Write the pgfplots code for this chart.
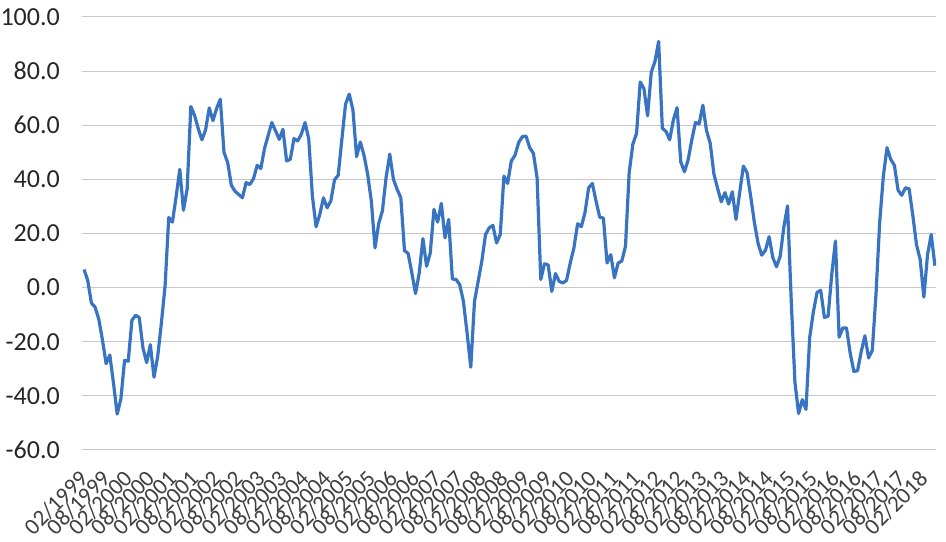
\documentclass[border=0pt]{standalone}
\usepackage{fontspec}
\setmainfont{Carlito}
\usepackage{pgfplots}
\pgfplotsset{compat=1.18}
\definecolor{lineblue}{RGB}{56,116,194}
\definecolor{gridgray}{RGB}{200,200,200}
\definecolor{ylab}{RGB}{38,38,38}
\definecolor{xlab}{RGB}{64,64,64}

\begin{document}
\begin{tikzpicture}
\begin{axis}[
    name=ax,
    scale only axis,
    width=854pt, height=433pt,
    xmin=-0.55, xmax=231.3,
    ymin=-60, ymax=100,
    ytick={-60,-40,...,100},
    yticklabels={-60.0,-40.0,-20.0,0.0,20.0,40.0,60.0,80.0,100.0},
    xtick={0,6,...,228},
    xticklabels={02/1999,08/1999,02/2000,08/2000,02/2001,08/2001,02/2002,08/2002,
      02/2003,08/2003,02/2004,08/2004,02/2005,08/2005,02/2006,08/2006,02/2007,08/2007,
      02/2008,08/2008,02/2009,08/2009,02/2010,08/2010,02/2011,08/2011,02/2012,08/2012,
      02/2013,08/2013,02/2014,08/2014,02/2015,08/2015,02/2016,08/2016,02/2017,08/2017,02/2018},
    axis line style={draw=none},
    major tick length=0pt,
    ymajorgrids,
    grid style={gridgray, line width=1pt},
    yticklabel style={font=\fontsize{26}{26}\selectfont, text=ylab, anchor=east, inner sep=0pt, xshift=-22pt},
    xticklabel style={font=\fontsize{23}{23}\selectfont, text=xlab, yshift=-25pt, rotate=45, anchor=east, inner sep=0pt},
]
\addplot[lineblue, line width=3.2pt, line join=round, no markers] table {
x y
0 6.7
1 2.7
2 -5.7
3 -7.2
4 -11.6
5 -19.3
6 -28.1
7 -24.9
8 -35.3
9 -46.7
10 -41.2
11 -26.9
12 -27.2
13 -12.1
14 -10.2
15 -11.1
16 -22.3
17 -27.7
18 -21.1
19 -33.1
20 -25.4
21 -13.1
22 0.5
23 25.9
24 24.2
25 33.6
26 43.7
27 28.6
28 36.5
29 66.9
30 63.7
31 58.8
32 54.6
33 58.3
34 66.4
35 61.7
36 66.2
37 69.6
38 50.0
39 46.2
40 37.8
41 35.6
42 34.4
43 33.2
44 38.8
45 38.1
46 40.2
47 45.2
48 44.0
49 51.4
50 56.3
51 61.0
52 57.9
53 54.8
54 58.5
55 46.8
56 47.4
57 55.1
58 54.2
59 56.7
60 61.0
61 55.1
62 33.8
63 22.5
64 27.0
65 33.2
66 29.5
67 32.0
68 39.8
69 41.5
70 54.8
71 67.8
72 71.5
73 65.7
74 48.4
75 53.8
76 49.0
77 41.9
78 32.0
79 14.7
80 23.7
81 28.3
82 40.6
83 49.3
84 40.0
85 36.3
86 33.2
87 13.7
88 12.6
89 5.4
90 -2.2
91 5.4
92 18.1
93 7.9
94 12.8
95 28.9
96 24.2
97 31.1
98 18.4
99 25.2
100 3.2
101 3.0
102 1.1
103 -5.1
104 -16.8
105 -29.4
106 -5.1
107 2.3
108 9.8
109 19.6
110 22.1
111 23.0
112 16.5
113 19.6
114 41.2
115 38.5
116 46.8
117 48.9
118 53.6
119 55.8
120 56.0
121 51.7
122 49.6
123 40.6
124 3.0
125 8.8
126 8.4
127 -1.4
128 5.2
129 2.3
130 1.7
131 2.7
132 9.1
133 14.7
134 23.6
135 22.5
136 27.7
137 36.9
138 38.5
139 32.0
140 26.0
141 25.7
142 9.1
143 12.2
144 3.6
145 9.1
146 9.8
147 15.3
148 42.5
149 53.0
150 57.0
151 76.0
152 73.6
153 63.5
154 79.6
155 83.6
156 91.0
157 58.9
158 57.7
159 54.6
160 62.0
161 66.5
162 46.5
163 42.8
164 47.2
165 54.6
166 61.0
167 60.5
168 67.4
169 58.0
170 53.3
171 42.0
172 36.7
173 31.7
174 35.1
175 30.9
176 35.4
177 25.2
178 35.1
179 44.9
180 42.5
181 33.6
182 24.0
183 16.3
184 12.0
185 13.8
186 18.8
187 11.1
188 7.7
189 11.6
190 22.5
191 30.2
192 -5.0
193 -35.0
194 -46.5
195 -41.4
196 -45.0
197 -18.5
198 -9.0
199 -1.8
200 -1.0
201 -11.0
202 -10.6
203 5.0
204 17.2
205 -18.3
206 -14.9
207 -14.9
208 -24.2
209 -31.0
210 -30.7
211 -23.6
212 -17.8
213 -26.0
214 -23.2
215 -2.6
216 24.0
217 41.2
218 51.7
219 47.4
220 45.2
221 36.0
222 34.1
223 36.9
224 36.5
225 26.7
226 15.9
227 10.4
228 -3.5
229 12.2
230 19.6
231 8.1
};
\end{axis}
\pgfresetboundingbox
\path ([shift={(-82pt,-92pt)}]ax.south west) rectangle ([shift={(10pt,17pt)}]ax.north east);
\end{tikzpicture}
\end{document}
